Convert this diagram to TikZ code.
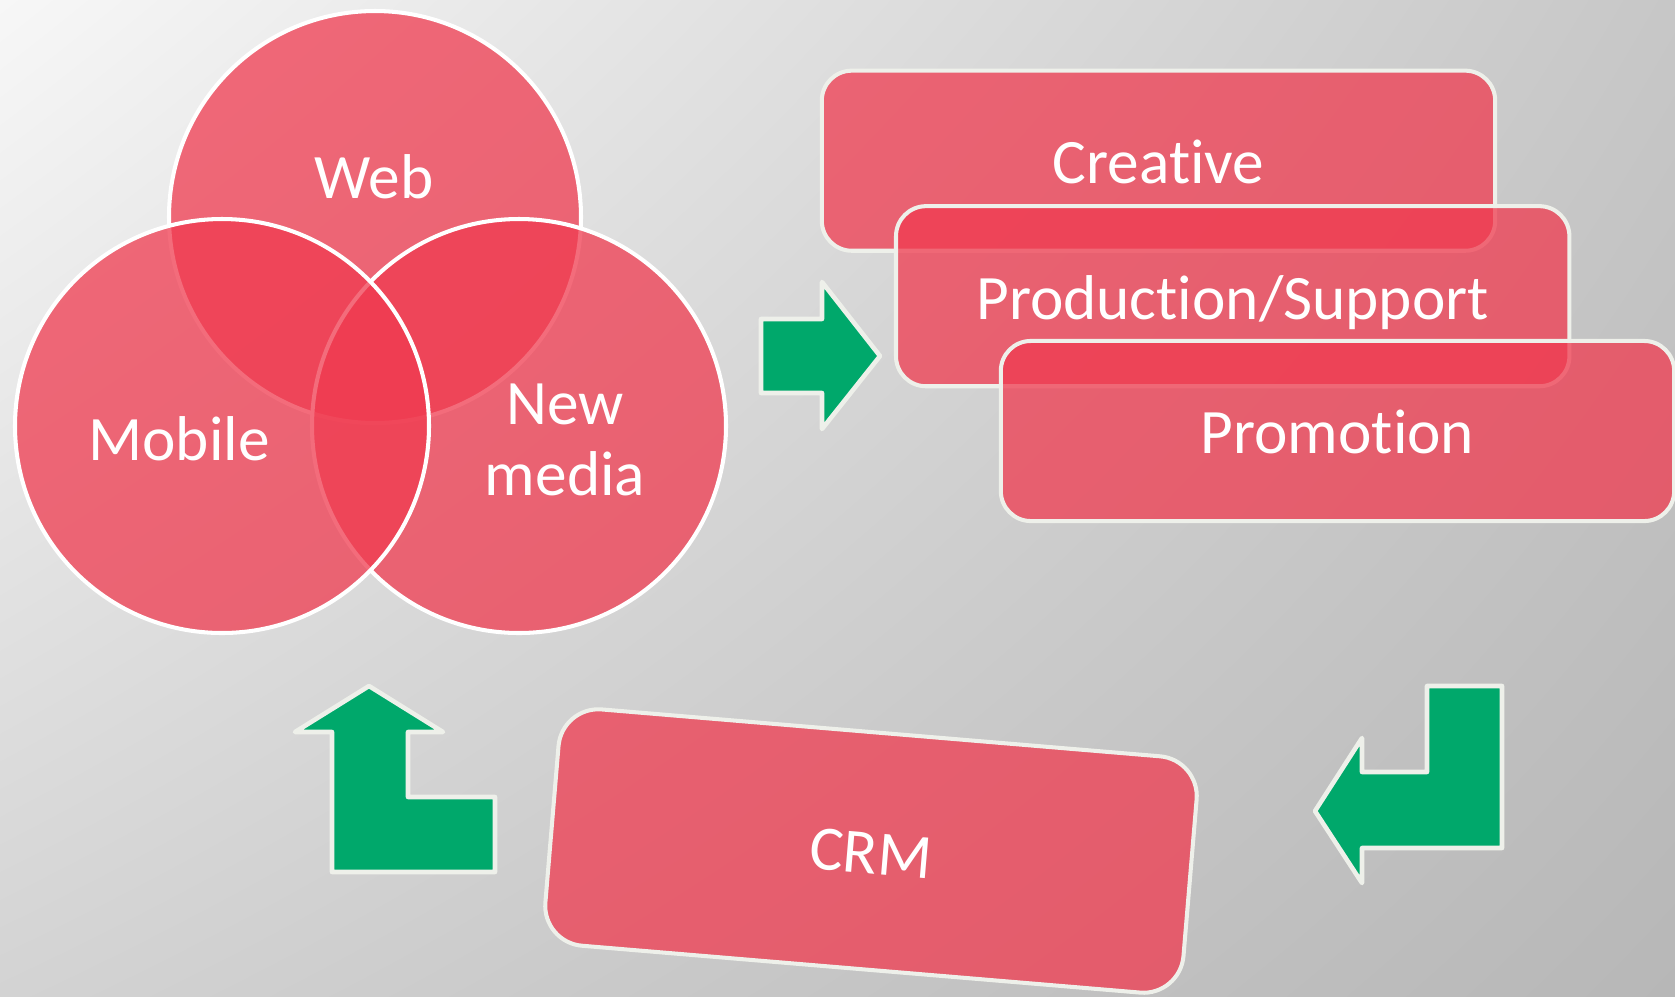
\documentclass[tikz,border=0pt]{standalone}
\usepackage{fontspec}
\setmainfont{Carlito}[Ligatures=NoCommon]
\usetikzlibrary{shadings}
\definecolor{vennred}{RGB}{240,59,80}
\definecolor{arrowgreen}{RGB}{0,168,107}
\definecolor{rimwhite}{RGB}{238,240,234}
\definecolor{bglight}{RGB}{247,247,247}
\definecolor{bgtopright}{RGB}{199,199,199}
\definecolor{bgbotleft}{RGB}{211,211,211}
\definecolor{bgdark}{RGB}{183,183,183}
\begin{document}
\begin{tikzpicture}[x=0.01cm, y=-0.01cm,
    venn/.style={fill=vennred, fill opacity=0.75, draw=white, line width=1.15pt},
    panel/.style={venn, draw=rimwhite, rounded corners=0.3cm,
      minimum width=6.73cm, minimum height=1.8cm, inner sep=0pt,
      text=white, text opacity=1, font=\fontsize{18}{20}\selectfont,
      text height=13pt, text depth=0pt},
    lbl/.style={text=white, font=\fontsize{18}{20}\selectfont, inner sep=0pt},
    greenarrow/.style={fill=arrowgreen, draw=rimwhite, line width=1.3pt, line join=round}]
  \useasboundingbox (0,0) rectangle (1675,996);
  \shade[upper left=bglight, upper right=bgtopright, lower left=bgbotleft, lower right=bgdark]
    (0,0) rectangle (1675,996);

  % venn
  \draw[venn] (375,217) circle (206);
  \draw[venn] (519,426) circle (207);
  \draw[venn] (222,426) circle (207);
  \node[lbl, anchor=base] (web) at (374,198) {Web};
  \node[lbl, anchor=base] (mobile) at (179,460) {Mobile};
  \node[lbl, align=center] (newmedia) at (565,440) {New\\media};

  % stacked boxes
  \node[panel] (creative) at (1158.5,160.7) {Creative};
  \node[panel] (production) at (1232.7,296.2) {Production/Support};
  \node[panel] (promotion) at (1337.5,431) {Promotion};

  \node[panel, rotate=-4.8, minimum width=6.4cm, minimum height=2.37cm,
    rounded corners=0.4cm] (crm) at (871,851) {CRM};

  % arrows
  \draw[greenarrow] (761,319) -- (822,319) -- (822,282) -- (880,356)
    -- (822,429) -- (822,393) -- (761,393) -- cycle;
  \draw[greenarrow] (1315,811) -- (1362,738) -- (1362,772) -- (1427,772)
    -- (1427,686) -- (1502,686) -- (1502,848) -- (1362,848) -- (1362,883) -- cycle;
  \draw[greenarrow] (369,686) -- (443,732) -- (408,732) -- (408,797)
    -- (495,797) -- (495,872) -- (332,872) -- (332,732) -- (295,732) -- cycle;
\end{tikzpicture}
\end{document}
